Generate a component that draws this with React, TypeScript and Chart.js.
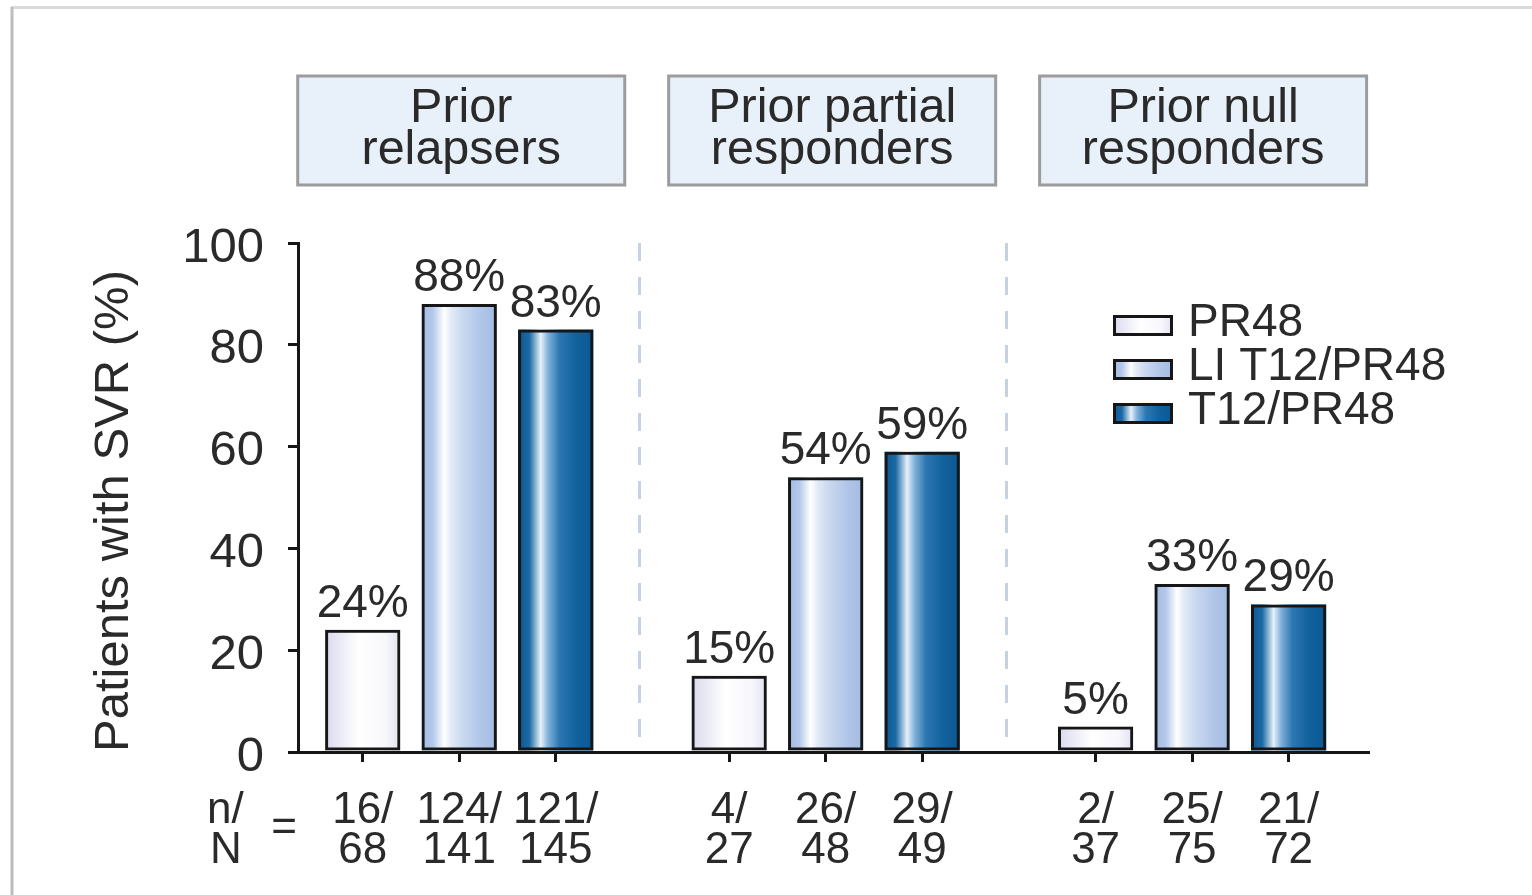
import React, { useEffect, useRef } from 'react';
import { Chart, registerables } from 'chart.js';

Chart.register(...registerables);

// ---- data ----
const groupLabels: string[][] = [
  ['Prior', 'relapsers'],
  ['Prior partial', 'responders'],
  ['Prior null', 'responders'],
];
const seriesNames = ['PR48', 'LI T12/PR48', 'T12/PR48'];
const pr48Values = [24, 15, 5];
const liT12Values = [88, 54, 33];
const t12Values = [83, 59, 29];
const pr48N = ['16', '4', '2'];
const pr48Total = ['68', '27', '37'];
const liT12N = ['124', '26', '25'];
const liT12Total = ['141', '48', '75'];
const t12N = ['121', '29', '21'];
const t12Total = ['145', '49', '72'];
const yTicks = [0, 20, 40, 60, 80, 100];
const yTitle = 'Patients with SVR (%)';

// ---- style ----
const FONT = '"Liberation Sans", Arial, Helvetica, sans-serif';
const TEXT = '#2a2a2a';
const LINE = '#161616';
const CAT_PCT = 0.79;
const BAR_PCT = 0.78;
const X_MIN = -0.44;
const X_MAX = 2.48;

const gradientStops: [number, string][][] = [
  [[0, '#d9d9ee'], [0.25, '#eeeef8'], [0.45, '#ffffff'], [0.8, '#f7f7fc'], [1, '#e2e2f1']],
  [[0, '#a2bbe2'], [0.15, '#b4c8ea'], [0.3, '#ffffff'], [0.4, '#e0e9f6'], [0.55, '#c9d8ef'], [0.78, '#b1c6e8'], [1, '#a3bce3']],
  [[0, '#0b5893'], [0.15, '#1c6aa5'], [0.3, '#e6f1fa'], [0.4, '#80b1d9'], [0.55, '#2c77b1'], [0.78, '#11619d'], [1, '#0b5893']],
];

const seriesValues = [pr48Values, liT12Values, t12Values];
const seriesN = [pr48N, liT12N, t12N];
const seriesTotal = [pr48Total, liT12Total, t12Total];

const barCenters: number[] = [];
const tickLabels: string[][] = [];
groupLabels.forEach((_, g) => {
  seriesNames.forEach((__, b) => {
    barCenters.push(g + ((b - 1) * CAT_PCT) / 3);
    tickLabels.push([`${seriesN[b][g]}/`, seriesTotal[b][g]]);
  });
});

function makeGradient(ctx: CanvasRenderingContext2D, x0: number, x1: number, s: number) {
  const gr = ctx.createLinearGradient(x0, 0, x1, 0);
  gradientStops[s].forEach(([o, c]) => gr.addColorStop(o, c));
  return gr;
}

const decorPlugin = {
  id: 'decor',
  beforeDraw(chart: any) {
    const ctx = chart.ctx as CanvasRenderingContext2D;
    ctx.save();
    ctx.fillStyle = '#ffffff';
    ctx.fillRect(0, 0, chart.width, chart.height);
    // frame
    ctx.strokeStyle = '#dadada';
    ctx.lineWidth = 3;
    ctx.beginPath();
    ctx.moveTo(11, 7.5);
    ctx.lineTo(chart.width, 7.5);
    ctx.stroke();
    ctx.strokeStyle = '#bdbdbd';
    ctx.beginPath();
    ctx.moveTo(12, 7);
    ctx.lineTo(12, chart.height);
    ctx.stroke();
    ctx.restore();
  },
  beforeDatasetsDraw(chart: any) {
    const ctx = chart.ctx as CanvasRenderingContext2D;
    const xs = chart.scales.x;
    const area = chart.chartArea;
    ctx.save();
    // separators
    ctx.strokeStyle = '#c6d1e3';
    ctx.lineWidth = 3;
    ctx.setLineDash([18, 16]);
    for (let g = 0; g < groupLabels.length - 1; g++) {
      const px = Math.round(xs.getPixelForValue(g + 0.5)) - 2.5;
      ctx.beginPath();
      ctx.moveTo(px, area.top);
      ctx.lineTo(px, area.bottom);
      ctx.stroke();
    }
    ctx.setLineDash([]);
    // gradient fills
    chart.data.datasets.forEach((_: any, s: number) => {
      const meta = chart.getDatasetMeta(s);
      meta.data.forEach((el: any) => {
        const x0 = el.x - el.width / 2;
        const x1 = el.x + el.width / 2;
        ctx.fillStyle = makeGradient(ctx, x0, x1, s);
        ctx.fillRect(x0, el.y, el.width, el.base - el.y);
      });
    });
    // group header boxes
    groupLabels.forEach((lines, g) => {
      const cx = xs.getPixelForValue(g) + 2 + 4.5 * g;
      const w = 327;
      const h = 109;
      const top = 76;
      ctx.fillStyle = '#e8f0f9';
      ctx.fillRect(cx - w / 2, top, w, h);
      ctx.strokeStyle = '#9c9c9c';
      ctx.lineWidth = 3;
      ctx.strokeRect(cx - w / 2, top, w, h);
      ctx.fillStyle = TEXT;
      ctx.font = `48.5px ${FONT}`;
      ctx.textAlign = 'center';
      ctx.textBaseline = 'alphabetic';
      lines.forEach((ln, i) => ctx.fillText(ln, cx, 122 + i * 42));
    });
    ctx.restore();
  },
  afterDatasetsDraw(chart: any) {
    const ctx = chart.ctx as CanvasRenderingContext2D;
    const area = chart.chartArea;
    ctx.save();
    // value labels
    ctx.fillStyle = TEXT;
    ctx.font = `46px ${FONT}`;
    ctx.textAlign = 'center';
    ctx.textBaseline = 'alphabetic';
    chart.data.datasets.forEach((ds: any, s: number) => {
      const meta = chart.getDatasetMeta(s);
      meta.data.forEach((el: any, i: number) => {
        ctx.fillText(`${ds.data[i].y}%`, el.x, el.y - 13);
      });
    });
    // legend
    const lx = area.right - 255;
    seriesNames.forEach((name, s) => {
      const top = 315 + s * 44;
      const bw = 60;
      const bh = 21;
      ctx.fillStyle = makeGradient(ctx, lx, lx + bw, s);
      ctx.fillRect(lx, top, bw, bh);
      ctx.strokeStyle = LINE;
      ctx.lineWidth = 3;
      ctx.strokeRect(lx + 1.5, top + 1.5, bw - 3, bh - 3);
      ctx.fillStyle = TEXT;
      ctx.font = `46px ${FONT}`;
      ctx.textAlign = 'left';
      ctx.fillText(name, lx + 75, top + bh);
    });
    // n/N = label
    ctx.font = `44px ${FONT}`;
    ctx.textBaseline = 'middle';
    ctx.textAlign = 'left';
    ctx.fillText('n/', 207, 811);
    ctx.fillText('N', 210, 851);
    ctx.textAlign = 'center';
    ctx.fillText('=', 284, 829);
    ctx.restore();
  },
};

export default function App() {
  const ref = useRef<HTMLCanvasElement>(null);
  useEffect(() => {
    if (!ref.current) return;
    const chart = new Chart(ref.current, {
      type: 'bar',
      data: {
        datasets: seriesNames.map((name, s) => ({
          label: name,
          data: seriesValues[s].map((v, g) => ({ x: g, y: v })),
          backgroundColor: 'transparent',
          borderColor: LINE,
          borderWidth: 3,
          borderSkipped: false,
          xAxisID: 'x',
          categoryPercentage: CAT_PCT,
          barPercentage: BAR_PCT,
        })),
      },
      options: {
        animation: false,
        responsive: true,
        maintainAspectRatio: false,
        layout: { padding: { top: 243, right: 164, bottom: 0, left: 0 } },
        plugins: { legend: { display: false }, tooltip: { enabled: false } },
        scales: {
          x: {
            type: 'linear',
            display: false,
            offset: false,
            grid: { offset: false },
            min: X_MIN,
            max: X_MAX,
            afterBuildTicks: (s: any) => {
              s.ticks = groupLabels.map((_, g) => ({ value: g }));
            },
          },
          xn: {
            type: 'linear',
            position: 'bottom',
            offset: false,
            min: X_MIN,
            max: X_MAX,
            afterBuildTicks: (s: any) => {
              s.ticks = barCenters.map((v) => ({ value: v }));
            },
            afterFit: (s: any) => {
              s.height = 143;
            },
            grid: { offset: false, drawOnChartArea: false, drawTicks: true, tickLength: 10, color: LINE, lineWidth: 3 },
            border: { display: true, color: LINE, width: 3 },
            ticks: {
              autoSkip: false,
              maxRotation: 0,
              padding: 29,
              color: TEXT,
              font: { family: FONT, size: 44, lineHeight: 0.91 },
              callback: (_v: any, i: number) => tickLabels[i],
            },
          },
          y: {
            min: 0,
            max: 100,
            afterBuildTicks: (s: any) => {
              s.ticks = yTicks.map((v) => ({ value: v }));
            },
            afterFit: (s: any) => {
              s.width = 298;
            },
            grid: { drawOnChartArea: false, drawTicks: true, tickLength: 10, color: LINE, lineWidth: 3 },
            border: { display: true, color: LINE, width: 3 },
            ticks: {
              padding: 24,
              labelOffset: 5,
              color: TEXT,
              font: { family: FONT, size: 49 },
            },
            title: {
              display: true,
              text: yTitle,
              align: 'start',
              color: TEXT,
              font: { family: FONT, size: 49 },
              padding: { top: 85, bottom: 0 },
            },
          },
        },
      },
      plugins: [decorPlugin],
    } as any);
    return () => chart.destroy();
  }, []);
  return (
    <div style={{ position: 'absolute', left: 0, top: 0, width: 1532, height: 895 }}>
      <canvas ref={ref} />
    </div>
  );
}
